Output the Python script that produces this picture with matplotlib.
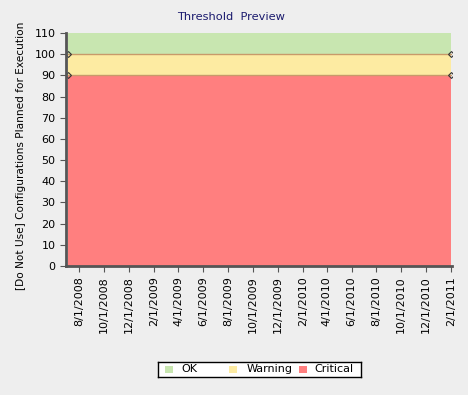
import datetime as dt

import numpy as np
import matplotlib
matplotlib.use("Agg")
import matplotlib.pyplot as plt
import matplotlib.dates as mdates
from matplotlib.patches import Rectangle

# data
dates = [dt.date(2008, 7, 5), dt.date(2011, 2, 1)]
critical = [90, 90]
warning = [10, 10]
ok = [10, 10]
series_names = ["OK", "Warning", "Critical"]
tick_dates = [dt.date(2008 + (7 + 2 * i) // 12, (7 + 2 * i) % 12 + 1, 1) for i in range(16)]
y_ticks = list(range(0, 111, 10))

col_ok = "#c8e6b0"
col_warn = "#fdeba2"
col_crit = "#ff7f7f"

W, H = 468, 395
fig = plt.figure(figsize=(4.68, 3.95), dpi=100, facecolor="#eeeeee")
ax = fig.add_axes([0.141, 0.327, 0.825, 0.589])
ax.set_facecolor("#eeeeee")

x = mdates.date2num(dates)
c = np.array(critical)
w = c + np.array(warning)
o = w + np.array(ok)
ax.fill_between(x, 0, c, color=col_crit, lw=0)
ax.fill_between(x, c, w, color=col_warn, lw=0)
ax.fill_between(x, w, o, color=col_ok, lw=0)
ax.plot(x, c, color="#c89a6a", lw=1, marker="D", ms=3, mfc="none", mec="#333333", mew=0.8)
ax.plot(x, w, color="#c89a6a", lw=1, marker="D", ms=3, mfc="none", mec="#333333", mew=0.8)

ax.set_xlim(x[0] - 6, x[1] + 2)
ax.set_ylim(0, 110)
ax.set_yticks(y_ticks)
ax.set_xticks(mdates.date2num(tick_dates))
ax.set_xticklabels([f"{d.month}/{d.day}/{d.year}" for d in tick_dates], rotation=90)
ax.tick_params(labelsize=8, colors="#555555", labelcolor="black", length=4)

for s in ["top", "right"]:
    ax.spines[s].set_visible(False)
for s in ["left", "bottom"]:
    ax.spines[s].set_color("#555555")
    ax.spines[s].set_linewidth(2)

fig.text(0.494, 0.957, "Threshold  Preview", ha="center", va="center", fontsize=8.2, color="#1a1a6e")
fig.text(0.045, 0.605, "[Do Not Use] Configurations Planned for Execution", rotation=90,
         ha="center", va="center", fontsize=7.6)

# legend drawn by hand, fixed slot widths like the original
lax = fig.add_axes([158 / W, 1 - 377 / H, (361 - 158) / W, 15 / H])
lax.set_xlim(158, 361)
lax.set_ylim(377, 362)
lax.set_xticks([])
lax.set_yticks([])
lax.set_facecolor("white")
for sp in lax.spines.values():
    sp.set_color("black")
    sp.set_linewidth(1)
handle_x = [165, 229, 299]
text_x = [181, 247, 314]
for hx, tx, name, col in zip(handle_x, text_x, series_names, [col_ok, col_warn, col_crit]):
    lax.add_patch(Rectangle((hx, 366), 8, 7, color=col, lw=0))
    lax.text(tx, 369.5, name, ha="left", va="center", fontsize=8)

fig.savefig("out.png", dpi=100, facecolor=fig.get_facecolor())
